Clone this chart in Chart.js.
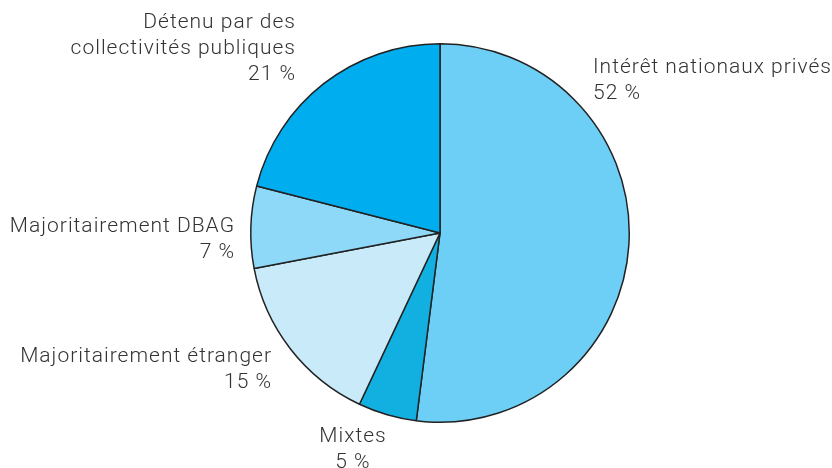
<!DOCTYPE html>
<html>
<head>
<meta charset="utf-8">
<script src="https://cdn.jsdelivr.net/npm/chart.js"></script>
<style>
  html, body { margin: 0; padding: 0; background: #fff; }
  #wrap { width: 832px; height: 468px; }
</style>
</head>
<body>
<div id="wrap"><canvas id="pie"></canvas></div>
<script>
// Répartition du capital (clockwise from 12 o'clock)
const categories = [
  ['Intérêt nationaux privés'],
  ['Mixtes'],
  ['Majoritairement étranger'],
  ['Majoritairement DBAG'],
  ['Détenu par des', 'collectivités publiques']
];
const shares = [52, 5, 15, 7, 21];
const sliceColors = ['#6dcff6', '#12b0e0', '#c8eaf9', '#8ed8f8', '#00adef'];

// label anchors relative to the pie centre: [dx, dy of first line, align]
const labelSpots = [
  [153, -165, 'left'],
  [-87, 204, 'center'],
  [-168, 124, 'right'],
  [-205, -6, 'right'],
  [-144, -210, 'right']
];

const outsideLabels = {
  id: 'outsideLabels',
  afterDraw(chart) {
    const ctx = chart.ctx;
    const arc = chart.getDatasetMeta(0).data[0];
    const cx = arc.x, cy = arc.y;
    ctx.save();
    ctx.fillStyle = '#333';
    ctx.font = '300 21px Roboto';
    ctx.letterSpacing = '1px';
    ctx.textBaseline = 'middle';
    chart.data.labels.forEach((lines, i) => {
      const [dx, dy, align] = labelSpots[i];
      ctx.textAlign = align;
      const all = lines.concat([chart.data.datasets[0].data[i] + ' %']);
      all.forEach((txt, j) => {
        ctx.fillText(txt, cx + dx, cy + dy + j * 26);
      });
    });
    ctx.restore();
  }
};

new Chart(document.getElementById('pie'), {
  type: 'pie',
  data: {
    labels: categories,
    datasets: [{
      data: shares,
      backgroundColor: sliceColors,
      borderColor: '#222',
      borderWidth: 1.5
    }]
  },
  options: {
    responsive: true,
    maintainAspectRatio: false,
    animation: false,
    layout: { padding: { top: 43, bottom: 45, left: 250, right: 202 } },
    plugins: {
      legend: { display: false },
      tooltip: { enabled: false }
    }
  },
  plugins: [outsideLabels]
});
</script>
</body>
</html>
